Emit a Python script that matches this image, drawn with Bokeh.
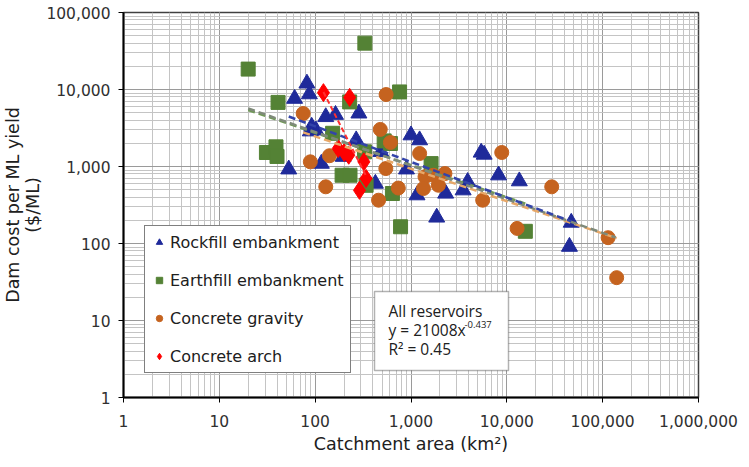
import numpy as np
from bokeh.plotting import figure
from bokeh.models import (NumeralTickFormatter, Legend, LegendItem, Label, BoxAnnotation)
from bokeh.embed import file_html
from bokeh.resources import INLINE

# ---------------- data ----------------
rock_area = [82, 87, 61, 129, 163, 286, 92, 102, 89, 268, 1000, 1230, 53, 116, 196,
             485, 425, 897, 1155, 1855, 2300, 3500, 3900, 5400, 5800, 8200, 13500,
             47000, 45000]
rock_cost = [12000, 8700, 7600, 4400, 4700, 4900, 3300, 2950, 2870, 2200, 2550, 2200,
             920, 1090, 1340, 1550, 600, 920, 424, 218, 446, 492, 633, 1520, 1430, 770,
             645, 187, 91]

earth_area = [20, 330, 41, 229, 760, 152, 525, 610, 31, 39, 40, 327, 191, 231, 340,
              640, 778, 1620, 15600]
earth_cost = [18400, 40000, 6800, 6900, 9300, 2700, 2150, 1990, 1520, 1800, 1350, 1550,
              770, 770, 570, 446, 165, 1090, 144]

grav_area = [550, 75, 478, 610, 89, 141, 129, 546, 737, 459, 1230, 1400, 1710, 2260,
             1350, 1930, 5600, 8850, 29400, 12800, 114000, 140000]
grav_cost = [8600, 4880, 3030, 2050, 1150, 1380, 545, 940, 525, 365, 1475, 735, 770,
             810, 518, 571, 365, 1520, 545, 157, 119, 36]

arch_area = [122, 229, 174, 201, 224, 322, 340, 290]
arch_cost = [9100, 7900, 1710, 1520, 1400, 1150, 700, 490]

# power-law trend lines: (coefficient, exponent, x_min, x_max)
fit_all = (21008, -0.437, 20, 137000)
fit_rock = (27900, -0.462, 53, 47000)
fit_earth = (19000, -0.42, 20, 15600)
fit_grav = (17000, -0.42, 75, 140000)
fit_arch = (1.2e9, -2.45, 122, 340)

series_names = ["Rockfill embankment", "Earthfill embankment", "Concrete gravity", "Concrete arch"]
eq_lines = ["All reservoirs", "y = 21008x", "R\u00b2 = 0.45"]
eq_exponent = "-0.437"

# ---------------- figure ----------------
FONT = "DejaVu Sans"
p = figure(width=740, height=461, x_axis_type="log", y_axis_type="log",
           x_range=(1, 1e6), y_range=(1, 1e5),
           output_backend="svg", toolbar_location=None,
           min_border_left=114, min_border_right=42, min_border_top=12, min_border_bottom=64)
p.background_fill_color = "white"
p.border_fill_color = "white"
p.outline_line_color = "#404040"
p.outline_line_width = 1.5

for ax in (p.xaxis[0], p.yaxis[0]):
    ax.formatter = NumeralTickFormatter(format="0,0")
    ax.major_label_text_font = FONT
    ax.major_label_text_font_size = "15.5px"
    ax.major_label_text_color = "#303030"
    ax.axis_label_text_font = FONT
    ax.axis_label_text_font_size = "17.5px"
    ax.axis_label_text_font_style = "normal"
    ax.axis_label_text_color = "#202020"
    ax.axis_line_color = "black"
    ax.axis_line_width = 2
    ax.major_tick_out = 5
    ax.major_tick_in = 0
    ax.minor_tick_out = 0
    ax.minor_tick_in = 0
    ax.major_tick_line_color = "black"

p.xaxis.axis_label = "Catchment area (km\u00b2)"
p.xaxis.major_label_standoff = 12
p.xaxis.axis_label_standoff = 4
p.yaxis.axis_label = "Dam cost per ML yield\n($/ML)"
p.yaxis.major_label_standoff = 8
p.yaxis.axis_label_standoff = 0
p.yaxis.axis_label_text_line_height = 1.0

for g in (p.xgrid, p.ygrid):
    g.grid_line_color = "#9a9a9a"
    g.grid_line_width = 1
    g.minor_grid_line_color = "#c4c4c4"
    g.minor_grid_line_width = 1

# ---------------- markers ----------------
r_rock = p.scatter(rock_area, rock_cost, marker="triangle", size=16,
                   fill_color="#1f2a9a", line_color="#1f2a9a")
r_earth = p.scatter(earth_area, earth_cost, marker="square", size=14,
                    fill_color="#548235", line_color="#548235")
r_grav = p.scatter(grav_area, grav_cost, marker="circle", size=14,
                   fill_color="#c5631f", line_color="#c5631f")
r_arch = p.scatter(arch_area, arch_cost, marker="diamond", size=18,
                   fill_color="#ff0000", line_color="#ff0000")

# ---------------- trend lines ----------------
def trend(fit, color, width=2.5, dash="7 4"):
    a, b, x0, x1 = fit
    xs = np.array([x0, x1], dtype=float)
    p.line(xs, a * xs ** b, line_color=color, line_width=width, line_dash=dash)

trend(fit_earth, "#6f9a55")
trend(fit_grav, "#e8a868")
trend(fit_all, "#7f8a7a")
trend(fit_rock, "#3344aa")
trend(fit_arch, "#ff3030", width=2, dash="5 3")

# ---------------- legend ----------------
legend = Legend(items=[LegendItem(label=series_names[0], renderers=[r_rock]),
                       LegendItem(label=series_names[1], renderers=[r_earth]),
                       LegendItem(label=series_names[2], renderers=[r_grav]),
                       LegendItem(label=series_names[3], renderers=[r_arch])],
                location=(21, 24))
legend.label_text_font = FONT
legend.label_text_font_size = "16px"
legend.label_text_color = "#202020"
legend.border_line_color = "black"
legend.border_line_width = 1.5
legend.background_fill_alpha = 1.0
legend.padding = 6
legend.spacing = 18
legend.glyph_height = 20
legend.glyph_width = 16
legend.label_height = 20
legend.label_standoff = 3
legend.margin = 0
p.add_layout(legend)

# ---------------- equation box ----------------
box = BoxAnnotation(left=251, right=385, bottom=27, top=106,
                    left_units="screen", right_units="screen",
                    bottom_units="screen", top_units="screen",
                    fill_color="white", fill_alpha=1.0,
                    line_color="black", line_width=1.5)
p.add_layout(box)
for txt, yy in zip(eq_lines, [87, 68, 49]):
    p.add_layout(Label(x=265, y=yy, x_units="screen", y_units="screen", text=txt,
                       text_font="Open Sans", text_font_size="15.5px",
                       text_baseline="middle", text_color="#202020"))
p.add_layout(Label(x=341, y=73, x_units="screen", y_units="screen", text=eq_exponent,
                   text_font="Open Sans", text_font_size="9.5px",
                   text_baseline="middle", text_color="#202020"))

open("out.html", "w").write(file_html(p, INLINE))
